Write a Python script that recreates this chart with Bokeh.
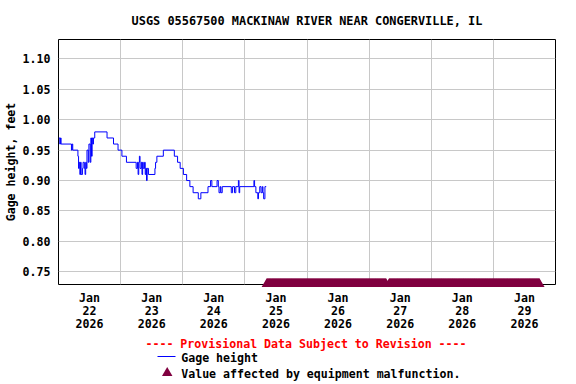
import pandas as pd
from bokeh.plotting import figure
from bokeh.models import Range1d, FixedTicker, PrintfTickFormatter, ColumnDataSource
from bokeh.embed import file_html
from bokeh.resources import INLINE
from bokeh.core.properties import value

TITLE = "USGS 05567500 MACKINAW RIVER NEAR CONGERVILLE, IL"
Y_LABEL = "Gage height, feet"
PROVISIONAL = "---- Provisional Data Subject to Revision ----"
SERIES_LABEL = "Gage height"
MALF_LABEL = "Value affected by equipment malfunction."

# gage height change points (step series, value holds until next time)
gage_times = [
    "2026-01-22 00:00", "2026-01-22 00:30", "2026-01-22 00:45", "2026-01-22 01:00",
    "2026-01-22 05:00", "2026-01-22 05:15", "2026-01-22 05:30", "2026-01-22 07:30",
    "2026-01-22 07:45", "2026-01-22 08:00", "2026-01-22 08:15", "2026-01-22 08:30",
    "2026-01-22 08:45", "2026-01-22 09:15", "2026-01-22 09:30", "2026-01-22 10:00",
    "2026-01-22 10:15", "2026-01-22 10:30", "2026-01-22 10:45", "2026-01-22 11:00",
    "2026-01-22 11:30", "2026-01-22 11:45", "2026-01-22 12:15", "2026-01-22 12:30",
    "2026-01-22 12:45", "2026-01-22 13:00", "2026-01-22 13:15", "2026-01-22 13:30",
    "2026-01-22 14:00", "2026-01-22 18:45", "2026-01-22 21:15", "2026-01-22 23:00",
    "2026-01-23 00:30", "2026-01-23 02:15", "2026-01-23 06:00", "2026-01-23 06:30",
    "2026-01-23 06:45", "2026-01-23 07:00", "2026-01-23 07:15", "2026-01-23 07:30",
    "2026-01-23 08:00", "2026-01-23 08:15", "2026-01-23 08:30", "2026-01-23 08:45",
    "2026-01-23 09:15", "2026-01-23 09:30", "2026-01-23 09:45", "2026-01-23 10:00",
    "2026-01-23 10:15", "2026-01-23 10:45", "2026-01-23 13:15", "2026-01-23 13:30",
    "2026-01-23 14:00", "2026-01-23 16:30", "2026-01-23 20:45", "2026-01-23 22:00",
    "2026-01-23 23:00", "2026-01-24 00:15", "2026-01-24 01:30", "2026-01-24 02:45",
    "2026-01-24 04:00", "2026-01-24 06:00", "2026-01-24 07:00", "2026-01-24 09:45",
    "2026-01-24 10:45", "2026-01-24 11:15", "2026-01-24 13:15", "2026-01-24 13:45",
    "2026-01-24 14:00", "2026-01-24 14:30", "2026-01-24 14:45", "2026-01-24 15:15",
    "2026-01-24 18:45", "2026-01-24 19:15", "2026-01-24 20:00", "2026-01-24 20:30",
    "2026-01-24 21:30", "2026-01-24 21:45", "2026-01-24 22:00", "2026-01-25 03:30",
    "2026-01-25 03:45", "2026-01-25 04:15", "2026-01-25 05:00", "2026-01-25 05:15",
    "2026-01-25 05:45", "2026-01-25 06:15", "2026-01-25 06:45", "2026-01-25 07:00",
    "2026-01-25 07:15", "2026-01-25 07:45", "2026-01-25 08:15",
]
gage_values = [
    0.97, 0.96, 0.97, 0.96,
    0.95, 0.96, 0.95, 0.94,
    0.92, 0.93, 0.91, 0.93,
    0.91, 0.92, 0.93, 0.92,
    0.91, 0.93, 0.92, 0.95,
    0.93, 0.96, 0.93, 0.97,
    0.94, 0.97, 0.96, 0.97,
    0.98, 0.97, 0.96, 0.95,
    0.94, 0.93, 0.92, 0.93,
    0.91, 0.93, 0.94, 0.92,
    0.93, 0.91, 0.93, 0.92,
    0.93, 0.91, 0.92, 0.90,
    0.92, 0.91, 0.92, 0.93,
    0.94, 0.95, 0.94, 0.93,
    0.92, 0.91, 0.90, 0.89,
    0.88, 0.87, 0.88, 0.89,
    0.90, 0.89, 0.90, 0.89,
    0.88, 0.89, 0.88, 0.89,
    0.88, 0.89, 0.88, 0.89,
    0.90, 0.88, 0.89, 0.90,
    0.89, 0.88, 0.87, 0.88,
    0.89, 0.88, 0.89, 0.88,
    0.87, 0.89, 0.89,
]

# periods flagged "equipment malfunction" (15-minute values)
malf_periods = [
    ("2026-01-25 08:30", "2026-01-27 06:30"),
    ("2026-01-27 07:45", "2026-01-29 17:45"),
]
malf_marker_value = 0.7298

tick_days = ["2026-01-22 12:00", "2026-01-23 12:00", "2026-01-24 12:00", "2026-01-25 12:00",
             "2026-01-26 12:00", "2026-01-27 12:00", "2026-01-28 12:00", "2026-01-29 12:00"]
tick_labels = ["Jan\n22\n2026", "Jan\n23\n2026", "Jan\n24\n2026", "Jan\n25\n2026",
               "Jan\n26\n2026", "Jan\n27\n2026", "Jan\n28\n2026", "Jan\n29\n2026"]
grid_days = ["2026-01-23", "2026-01-24", "2026-01-25", "2026-01-26",
             "2026-01-27", "2026-01-28", "2026-01-29"]
y_ticks = [0.75, 0.80, 0.85, 0.90, 0.95, 1.00, 1.05, 1.10]
x_start, x_end = "2026-01-22 00:00", "2026-01-30 00:00"
y_start, y_end = 0.7291, 1.1319

# layout (pixels)
W, H = 576, 384
BL, BR, BT, BB = 58, 21, 39, 100
FW, FH = W - BL - BR, H - BT - BB
MARKER_COLOR = "#800040"


def ms(s):
    return pd.Timestamp(s).value / 1e6


X0, X1 = ms(x_start), ms(x_end)


def px_x(px):
    # canvas pixel -> x data (for caption/legend placed under the axis)
    return X0 + (px - BL) / FW * (X1 - X0)


def px_y(py):
    return y_end - (py - BT) / FH * (y_end - y_start)


FONT_NAME = "DejaVu Sans Mono"
FONT = value(FONT_NAME)
FS = "11.6px"

p = figure(width=W, height=H, x_axis_type="datetime",
           x_range=Range1d(X0, X1), y_range=Range1d(y_start, y_end),
           output_backend="svg", toolbar_location=None, title=TITLE,
           min_border_left=BL, min_border_right=BR, min_border_top=BT, min_border_bottom=BB)
p.outline_line_color = "black"
p.outline_line_width = 1
p.outline_line_alpha = 1.0
p.background_fill_color = "white"
p.border_fill_color = "white"

p.title.align = "center"
p.title.text_font = FONT_NAME
p.title.text_font_size = "11.9px"
p.title.text_font_style = "bold"
p.title.text_color = "black"
p.title.standoff = 23

src = ColumnDataSource(dict(t=pd.to_datetime(gage_times), v=gage_values))
p.step("t", "v", source=src, mode="after", line_color="#0000ff", line_width=1)

mt = pd.DatetimeIndex([])
for a, b in malf_periods:
    mt = mt.append(pd.date_range(a, b, freq="15min"))
msrc = ColumnDataSource(dict(t=mt, v=[malf_marker_value] * len(mt)))
p.scatter("t", "v", source=msrc, marker="triangle", size=10.5,
          fill_color=MARKER_COLOR, line_color=None, level="overlay")

for ax in (p.xaxis[0], p.yaxis[0]):
    ax.axis_line_color = None
    ax.major_tick_line_color = None
    ax.minor_tick_line_color = None
    ax.major_tick_in = 0
    ax.major_tick_out = 0
    ax.minor_tick_out = 0
    ax.major_label_text_font = FONT_NAME
    ax.major_label_text_font_size = FS
    ax.major_label_text_font_style = "bold"
    ax.major_label_text_color = "black"

p.xaxis.ticker = FixedTicker(ticks=[ms(d) for d in tick_days])
p.xaxis.major_label_overrides = {ms(d): lab for d, lab in zip(tick_days, tick_labels)}
p.xaxis.major_label_standoff = 6
p.xaxis.major_label_text_line_height = 0.93

p.yaxis.ticker = FixedTicker(ticks=y_ticks)
p.yaxis.formatter = PrintfTickFormatter(format="%.2f")
p.yaxis.major_label_standoff = 8
p.yaxis.axis_label = Y_LABEL
p.yaxis.axis_label_text_font = FONT_NAME
p.yaxis.axis_label_text_font_size = FS
p.yaxis.axis_label_text_font_style = "bold"
p.yaxis.axis_label_text_color = "black"
p.yaxis.axis_label_standoff = 2

p.xgrid.ticker = FixedTicker(ticks=[ms(d) for d in grid_days])
p.xgrid.grid_line_color = "#c8c8c8"
p.ygrid.grid_line_color = "#c8c8c8"

# caption and legend under the axis (overlay level: not clipped to the frame)
txt = dict(text_font=FONT, text_font_size=FS, text_font_style="bold",
           text_baseline="middle", level="overlay")
p.text(x=[px_x(305.5)], y=[px_y(343)], text=[PROVISIONAL], text_color="#ff0000",
       text_align="center", **txt)
p.line(x=[px_x(157), px_x(175)], y=[px_y(356), px_y(356)], line_color="#0000ff",
       line_width=1, level="overlay")
p.text(x=[px_x(180.7)], y=[px_y(357)], text=[SERIES_LABEL], text_color="black",
       text_align="left", **txt)
# legend triangle sample (same shape as the flag markers)
cx, cy, tw, th = 166.7, 372.5, 10.5, 9.1
p.patch(x=[px_x(cx - tw / 2), px_x(cx + tw / 2), px_x(cx)],
        y=[px_y(cy + th / 3), px_y(cy + th / 3), px_y(cy - 2 * th / 3)],
        fill_color=MARKER_COLOR, line_color=None, level="overlay")
p.text(x=[px_x(180.7)], y=[px_y(373)], text=[MALF_LABEL], text_color="black",
       text_align="left", **txt)

open("out.html", "w").write(file_html(p, INLINE))
